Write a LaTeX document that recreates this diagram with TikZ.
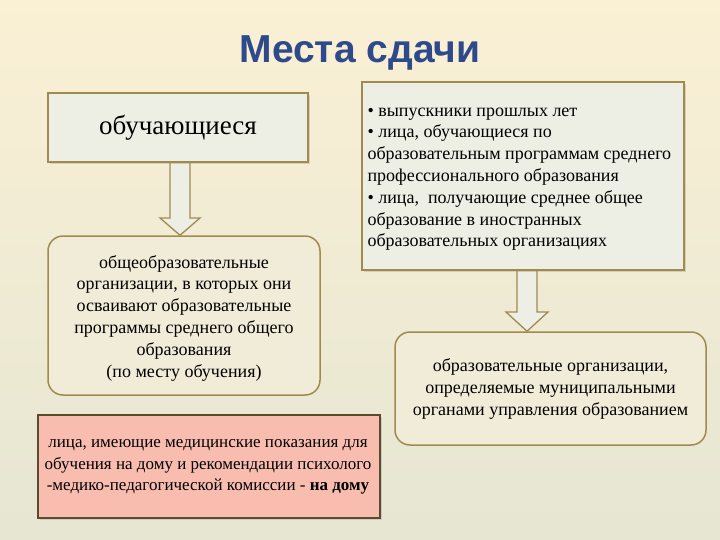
\documentclass[tikz,border=0pt]{standalone}
\usepackage{fontspec}
\setmainfont{Liberation Serif}
\newfontfamily\titlefont{Liberation Sans}
\usetikzlibrary{shadows}
\definecolor{bord}{HTML}{A08A50}
\definecolor{boxfill}{HTML}{EDEEE4}
\definecolor{rfill}{HTML}{F1ECD8}
\definecolor{pinkfill}{HTML}{F9BDB0}
\definecolor{titleblue}{HTML}{2E4A8A}
\definecolor{bgtop}{HTML}{FAF0D4}
\definecolor{bgbot}{HTML}{E6E6D3}
\tikzset{
 sqbox/.style={draw=bord,line width=1.5pt,fill=boxfill,inner sep=0pt,drop shadow={opacity=0.25,shadow xshift=2pt,shadow yshift=-2pt}},
 rbox/.style={draw=bord,line width=1.5pt,fill=rfill,rounded corners=15pt,inner sep=0pt},
 txt/.style={font=\fontsize{18}{21.8}\selectfont,align=center},
 barrow/.style={draw=bord,line width=1.3pt,fill=boxfill}
}
\begin{document}
\begin{tikzpicture}[x=1pt,y=-1pt]
\shade[top color=bgtop, bottom color=bgbot] (0,0) rectangle (720,540);
\useasboundingbox (0,0) rectangle (720,540);
\node[font=\titlefont\bfseries\fontsize{39}{44}\selectfont,text=titleblue] (title) at (360,53) {Места сдачи};
% boxes
\node[sqbox,minimum width=260pt,minimum height=69pt,font=\fontsize{27}{30}\selectfont] (b1) at (178,127.5) {обучающиеся};
\node[rbox,minimum width=272pt,minimum height=159pt] (b2) at (184,315.5) {};
\node[txt] (b2t) at (184,318) {общеобразовательные\\организации, в которых они\\осваивают образовательные\\программы среднего общего\\образования\\(по месту обучения)};
\node[sqbox,fill=pinkfill,draw=black!45!bord,minimum width=342pt,minimum height=103pt] (b3) at (209,466.5) {};
\node[txt,font=\fontsize{17}{21.8}\selectfont] (b3t) at (208,467) {лица, имеющие медицинские показания для\\обучения на дому и рекомендации психолого\\-медико-педагогической комиссии - \textbf{на дому}};
\node[sqbox,minimum width=322pt,minimum height=188pt] (b4) at (523,176) {};
\node[txt,align=left,anchor=north west] (b4t) at (364,104) {• выпускники прошлых лет\\• лица, обучающиеся по\\образовательным программам среднего\\профессионального образования\\• лица,\ \ получающие среднее общее\\образование в иностранных\\образовательных организациях};
\node[rbox,minimum width=311pt,minimum height=113pt] (b5) at (550.5,388.5) {};
\node[txt] (b5t) at (550.5,389) {образовательные организации,\\определяемые муниципальными\\органами управления образованием};
% arrows
\draw[barrow] (b1.south -| 170,0) -- (170,218) -- (160,218) -- (b2.north -| 180,0) -- (200,218) -- (190,218) -- (b1.south -| 190,0) -- cycle;
\draw[barrow] (b4.south -| 517,0) -- (517,312) -- (506,312) -- (b5.north -| 527,0) -- (548,312) -- (537,312) -- (b4.south -| 537,0) -- cycle;
\end{tikzpicture}
\end{document}
